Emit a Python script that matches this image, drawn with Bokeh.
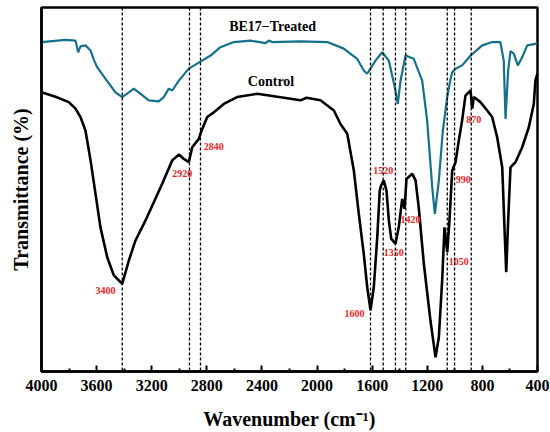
from bokeh.plotting import figure
from bokeh.models import Range1d, FixedTicker, Span
from bokeh.core.properties import value
from bokeh.embed import file_html
from bokeh.resources import INLINE

# Control spectrum (wavenumber cm-1, transmittance a.u.)
control_wn = [4000, 3898, 3802, 3753, 3717, 3681, 3644, 3608, 3572, 3523, 3475, 3414,
              3366, 3318, 3245, 3124, 3051, 3003, 2967, 2931, 2906, 2858, 2840, 2797,
              2749, 2677, 2580, 2434, 2289, 2120, 2077, 1975, 1878, 1830, 1781, 1733,
              1697, 1661, 1636, 1612, 1588, 1563, 1545, 1535, 1516, 1496, 1479, 1462,
              1431, 1407, 1382, 1365, 1351, 1309, 1285, 1262, 1225, 1177, 1140, 1116,
              1092, 1075, 1055, 1039, 1019, 995, 971, 947, 923, 886, 874, 862, 814,
              765, 729, 693, 656, 637, 627, 613, 596, 560, 511, 463, 427, 415, 400]
control_t = [76.7, 75.5, 74.0, 72.2, 69.9, 66.2, 58.0, 48.8, 39.6, 31.4, 26.4, 24.1,
             30.5, 36.0, 41.5, 51.6, 58.0, 59.6, 58.4, 57.5, 61.6, 63.9, 66.0, 69.9,
             71.2, 73.5, 75.4, 76.3, 75.5, 74.5, 75.2, 74.5, 71.7, 68.0, 65.3, 55.2,
             43.3, 32.3, 23.2, 16.8, 23.2, 36.9, 49.7, 51.1, 52.5, 49.7, 41.5, 36.5,
             35.1, 39.6, 47.4, 44.7, 52.9, 54.3, 52.5, 45.1, 29.6, 14.0, 3.9, 9.4,
             25.0, 39.6, 32.8, 41.5, 55.2, 57.5, 63.5, 69.0, 75.8, 77.2, 72.2, 75.4, 74.0,
             71.7, 69.9, 64.4, 56.1, 36.9, 27.3, 41.5, 56.1, 57.5, 61.6, 67.1, 73.5, 79.9, 82.0]

# BE17-Treated spectrum
treated_wn = [4000, 3826, 3753, 3734, 3717, 3681, 3644, 3620, 3596, 3535, 3463, 3414,
              3366, 3330, 3281, 3221, 3149, 3112, 3076, 3051, 3003, 2931, 2834, 2773,
              2701, 2604, 2483, 2374, 2350, 2326, 2120, 1926, 1806, 1709, 1661, 1636,
              1576, 1527, 1479, 1436, 1414, 1394, 1358, 1298, 1237, 1201, 1164, 1145,
              1116, 1087, 1055, 1031, 1019, 995, 947, 886, 801, 729, 669, 645, 632,
              613, 596, 572, 543, 511, 475, 415, 400]
treated_t = [90.5, 91.1, 90.9, 87.7, 89.3, 89.6, 88.2, 85.6, 83.6, 80.4, 76.7, 75.4,
             76.7, 77.7, 76.3, 74.5, 74.2, 75.4, 77.7, 77.2, 79.9, 83.2, 85.4, 86.8,
             89.1, 90.5, 90.9, 90.2, 90.9, 90.5, 90.7, 90.5, 88.7, 85.9, 82.7, 81.8,
             85.4, 87.7, 85.4, 78.1, 73.5, 79.9, 86.8, 85.9, 79.9, 69.0, 50.6, 43.3,
             52.5, 66.2, 75.4, 80.4, 82.2, 83.2, 84.1, 86.8, 89.6, 90.5, 90.5, 85.4, 69.4,
             82.7, 88.0, 87.3, 84.1, 86.3, 89.6, 90.0, 90.3]

# Marked peaks
peak_lines = [3414, 2926, 2846, 1612, 1520, 1431, 1356, 1055, 1002, 881]
peak_labels = ["3400", "2920", "2840", "1600", "1520", "1350", "1420", "1050", "990", "870"]
label_x = [3535, 2979, 2749, 1728, 1520, 1443, 1322, 971, 939, 862]
label_y = [22.3, 54.5, 61.9, 15.9, 55.2, 32.8, 41.8, 30.2, 52.7, 69.2]

series_names = ["BE17\u2212Treated", "Control"]
name_x = [2323, 2334]
name_y = [94.8, 79.7]

x_ticks = [4000, 3600, 3200, 2800, 2400, 2000, 1600, 1200, 800, 400]
x_minor = [3800, 3400, 3000, 2600, 2200, 1800, 1400, 1000, 600]

FONT = "Liberation Serif"

p = figure(width=550, height=432, x_range=Range1d(4000, 400), y_range=Range1d(0, 100),
           output_backend="svg", toolbar_location=None,
           min_border_left=41, min_border_right=13, min_border_top=7, min_border_bottom=61)

p.xgrid.visible = False
p.ygrid.visible = False
p.outline_line_color = "black"
p.outline_line_width = 2.5
p.outline_line_alpha = 1.0
p.background_fill_color = "white"
p.border_fill_color = "white"

p.line(treated_wn, treated_t, line_color="#16708a", line_width=2.2)
p.line(control_wn, control_t, line_color="black", line_width=2.6)

for loc in peak_lines:
    p.add_layout(Span(location=loc, dimension="height", line_color="black",
                      line_width=1.3, line_dash="3 2"))

p.text(x=label_x, y=label_y, text=peak_labels, text_color="#e8262a",
       text_font=value(FONT), text_font_style="bold", text_font_size="10px",
       text_align="center", text_baseline="middle")
p.text(x=name_x, y=name_y, text=series_names, text_color="black",
       text_font=value(FONT), text_font_style="bold", text_font_size="14px",
       text_align="center", text_baseline="middle")

ax = p.xaxis[0]
ax.ticker = FixedTicker(ticks=x_ticks, minor_ticks=x_minor)
ax.major_tick_in = 6
ax.major_tick_out = 0
ax.minor_tick_in = 3
ax.minor_tick_out = 0
ax.major_tick_line_width = 2
ax.minor_tick_line_width = 2
ax.axis_line_width = 2.5
ax.major_label_text_font = FONT
ax.major_label_text_font_style = "bold"
ax.major_label_text_font_size = "16px"
ax.major_label_text_color = "black"
ax.major_label_standoff = 8
ax.axis_label = "Wavenumber (cm\u207b\u00b9)"
ax.axis_label_text_font = FONT
ax.axis_label_text_font_style = "bold"
ax.axis_label_text_font_size = "20px"
ax.axis_label_text_color = "black"
ax.axis_label_standoff = 14

ay = p.yaxis[0]
ay.ticker = FixedTicker(ticks=[])
ay.major_tick_line_color = None
ay.minor_tick_line_color = None
ay.axis_line_width = 2.5
ay.axis_label = "Transmittance (%)"
ay.axis_label_text_font = FONT
ay.axis_label_text_font_style = "bold"
ay.axis_label_text_font_size = "20px"
ay.axis_label_text_color = "black"
ay.axis_label_standoff = 10

open("out.html", "w").write(file_html(p, INLINE))
